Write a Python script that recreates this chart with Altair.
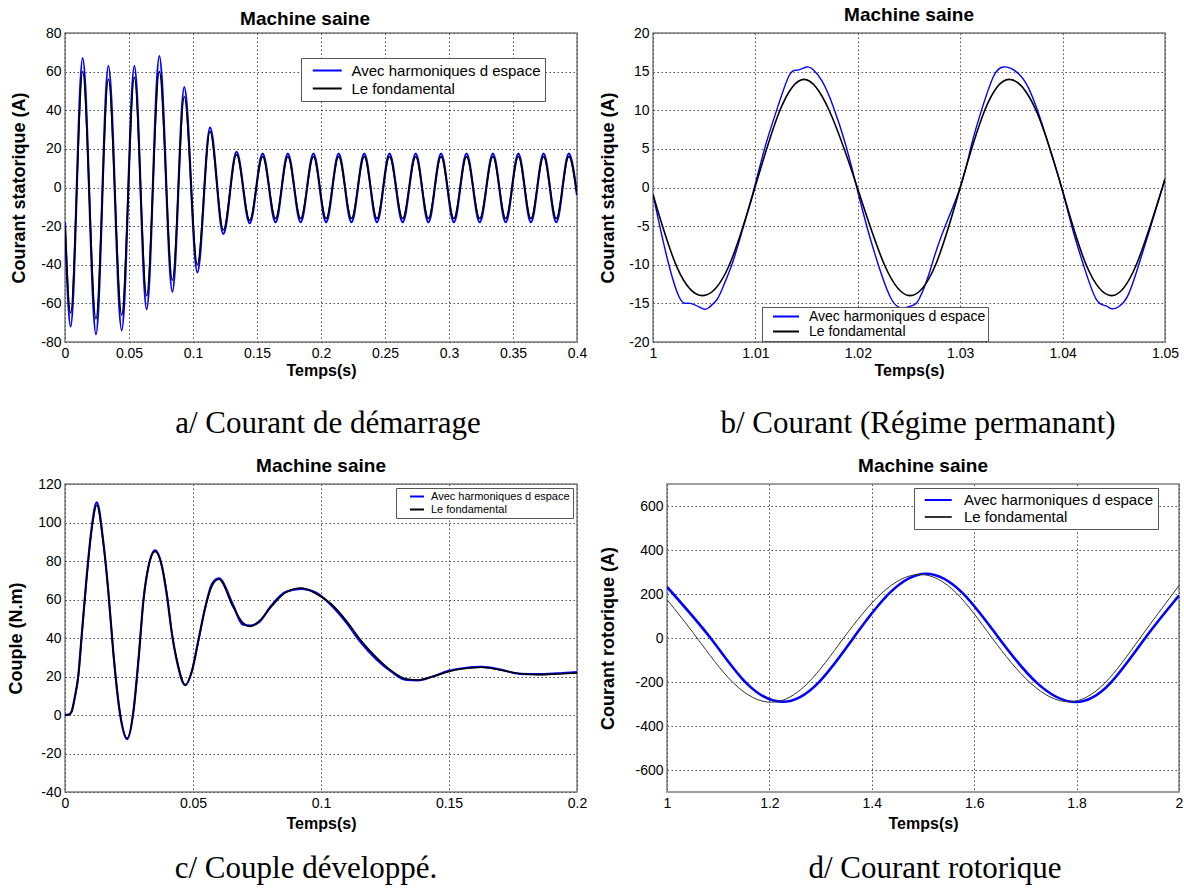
import altair as alt
import pandas as pd

LBL_H = "Avec harmoniques d espace"
LBL_F = "Le fondamental"
TITLE = "Machine saine"
XTITLE = "Temps(s)"
CAPTIONS = ["a/ Courant de démarrage", "b/ Courant (Régime permanant)",
            "c/ Couple développé.", "d/ Courant rotorique"]
YTITLES = ["Courant statorique (A)", "Courant statorique (A)", "Couple (N.m)", "Courant rotorique (A)"]

# ---------------- a/ starting current ----------------
a_t = [0.0, 0.0044, 0.0138, 0.0242, 0.0339, 0.0443, 0.0542, 0.0638, 0.0737, 0.0839,
       0.0932, 0.1034, 0.1133, 0.1237, 0.1340, 0.1443, 0.1544, 0.1645, 0.1741, 0.1841,
       0.1941, 0.2040, 0.2138, 0.2238, 0.2338, 0.2437, 0.2535, 0.2638, 0.2740, 0.2839,
       0.2938, 0.3038, 0.3137, 0.3240, 0.3343, 0.3443, 0.3542, 0.3640, 0.3739, 0.3838,
       0.3936, 0.4000]
a_fund = [-20, -65, 60, -68, 56, -66, 57, -56, 60, -48,
          47, -40, 29, -22, 17, -17, 16, -16, 16, -16,
          16, -16, 16, -16, 16, -16, 16, -16, 16, -16,
          16, -16, 16, -16, 16, -16, 16, -16, 16, -16,
          16, -3]
a_harm = [-18, -72, 67, -76, 63, -74, 63, -63, 68, -54,
          52, -44, 31, -24, 18.5, -18.5, 17.5, -18, 17.5, -18,
          17.5, -18, 17.5, -18, 17.5, -18, 17.5, -18, 17.5, -18,
          17.5, -18, 17.5, -18, 17.5, -18, 17.5, -18, 17.5, -18,
          17.5, -4]

# ---------------- b/ steady-state current ----------------
b_tf = [1.0, 1.0024, 1.00488, 1.0074, 1.00996, 1.0124, 1.01475, 1.0172, 1.01995, 1.0226,
        1.0251, 1.0276, 1.0300, 1.0324, 1.03477, 1.0374, 1.0399, 1.0423, 1.04476, 1.0472, 1.05]
b_vf = [-0.9, -10.5, -14, -10.2, 0, 10, 14, 10, 0, -10,
        -14, -10, 0, 10, 14, 10, 0, -10, -14, -10, 1.1]
b_th = [1.0000, 1.0013, 1.0026, 1.0036, 1.0049, 1.0055, 1.0062, 1.0068, 1.0078, 1.0088,
        1.0099, 1.0110, 1.0122, 1.0133, 1.0141, 1.0150, 1.0156, 1.0165, 1.0176, 1.0188,
        1.0199, 1.0210, 1.0222, 1.0233, 1.0243, 1.0253, 1.0260, 1.0270, 1.0281, 1.0300,
        1.0311, 1.0322, 1.0333, 1.0342, 1.0350, 1.0358, 1.0367, 1.0378, 1.0388, 1.0399,
        1.0410, 1.0422, 1.0433, 1.0442, 1.0448, 1.0455, 1.0463, 1.0472, 1.0485, 1.0500]
b_vh = [-0.9, -8.7, -14.3, -15.0, -15.7, -15.5, -14.6, -13.0, -9.6, -5.2,
        0.0, 5.5, 10.5, 14.5, 15.2, 15.6, 15.3, 13.8, 10.5, 5.6,
        0.0, -5.6, -10.8, -14.5, -15.6, -15.3, -14.4, -11.0, -6.5, 0.0,
        5.5, 10.5, 14.5, 15.6, 15.4, 14.6, 12.8, 9.0, 4.8, 0.0,
        -5.5, -10.7, -14.5, -15.3, -15.7, -15.4, -14.2, -11.0, -5.5, 1.1]

# ---------------- c/ torque ----------------
c_t = [0.0, 0.0015, 0.0025, 0.0039, 0.0052, 0.0065, 0.0085, 0.0104, 0.0124, 0.0150,
       0.0170, 0.0189, 0.0215, 0.0243, 0.0268, 0.0287, 0.0307, 0.0326, 0.0352, 0.0379,
       0.0398, 0.0418, 0.0437, 0.0470, 0.0496, 0.0522, 0.0548, 0.0574, 0.0601, 0.0657,
       0.0694, 0.0724, 0.0760, 0.0804, 0.0863, 0.0922, 0.0981, 0.1040, 0.1099, 0.1157,
       0.1216, 0.1275, 0.1334, 0.1378, 0.1437, 0.1496, 0.1554, 0.1628, 0.1701, 0.1775,
       0.1849, 0.1922, 0.2000]
c_fund = [0, 0.2, 1.5, 9.5, 20, 40.5, 71.7, 96, 109, 89,
          63, 32, 1, -12, 2.6, 28.6, 60, 77, 85, 77,
          63, 42, 28.6, 15.5, 23, 39, 56, 67, 70.5, 56,
          48, 46, 49, 56, 63.7, 66, 63, 57.7, 49, 38.6,
          30, 23, 18.7, 18.2, 20, 22.5, 24, 24.8, 23.4, 21.6,
          21, 21.3, 21.8]
c_harm = [0, 0.2, 1.5, 9.8, 20.5, 41, 72.5, 97, 110.5, 89.5,
          63, 32, 0.5, -12.5, 2.6, 28.6, 60.5, 77, 85.5, 77,
          62, 42, 28, 15.5, 23, 39.5, 56, 68, 71, 57,
          47, 46.5, 48.5, 56.5, 64, 65.5, 63.5, 57, 48, 37.5,
          29, 22.5, 18.2, 18.0, 20, 22.8, 24.3, 25, 23.6, 21.4,
          21.2, 21.6, 22.3]

# ---------------- d/ rotor current ----------------
d_tf = [1.0, 1.0587, 1.13, 1.204, 1.275, 1.345, 1.42, 1.494, 1.565, 1.635,
        1.71, 1.785, 1.855, 1.924, 2.0]
d_vf = [175, 0, -205, -292, -205, 0, 205, 289, 205, 0,
        -205, -290, -205, 0, 238]
d_th = [1.0, 1.085, 1.155, 1.226, 1.295, 1.364, 1.435, 1.506, 1.577, 1.648,
        1.723, 1.798, 1.866, 1.934, 2.0]
d_vh = [232, 0, -205, -290, -205, 0, 205, 292, 205, 0,
        -205, -291, -205, 0, 193]

FONT = "Liberation Sans"
LINE_SYMBOL = "M-2,0H2"
NBSP = "\u00a0"


def legend_params(box_x, box_y, pad, line_start, line_len, label_start, font_size,
                  row_pad, tail):
    """Legend position (relative to plot) and symbol geometry."""
    half = line_len / 2.0
    sym_off = line_start - pad + line_len / 4.0
    return dict(
        legendX=box_x, legendY=box_y, padding=pad, rowPadding=row_pad,
        labelFontSize=font_size, symbolSize=half * half,
        symbolOffset=sym_off,
        labelOffset=label_start - pad - half - sym_off,
        labelExpr="datum.label + '" + NBSP * tail + "'",
    )


def panel(th, vh, tf, vf, xdom, xticks, ydom, yticks, ytitle, caption, cap_x, cap_y,
          width, height, interp, blue_w, black_w, black_col, ytp, xlp, xtp,
          title_off, title_dx, leg):
    dh = pd.DataFrame({"t": th, "v": vh, "serie": LBL_H})
    dfu = pd.DataFrame({"t": tf, "v": vf, "serie": LBL_F})
    x = alt.X("t:Q", scale=alt.Scale(domain=xdom, nice=False, zero=False),
              axis=alt.Axis(values=xticks, title=XTITLE, labelExpr="'' + datum.value",
                            labelPadding=xlp, titlePadding=xtp))
    y = alt.Y("v:Q", scale=alt.Scale(domain=ydom, nice=False, zero=False),
              axis=alt.Axis(values=yticks, title=ytitle, labelExpr="'' + datum.value",
                            labelPadding=4, titlePadding=ytp))
    color = alt.Color("serie:N",
                      scale=alt.Scale(domain=[LBL_H, LBL_F], range=["#0000ff", black_col]),
                      legend=alt.Legend(title=None, orient="none",
                                        direction="vertical", fillColor="white",
                                        strokeColor="#555555",
                                        labelFont=FONT, labelColor="black",
                                        symbolType=LINE_SYMBOL,
                                        symbolStrokeWidth=2, labelLimit=500, **leg))
    lh = alt.Chart(dh).mark_line(strokeWidth=blue_w, interpolate=interp, clip=True).encode(
        x=x, y=y, color=color)
    lf = alt.Chart(dfu).mark_line(strokeWidth=black_w, interpolate=interp, clip=True).encode(
        x=x, y=y, color=color)
    cap = alt.Chart(pd.DataFrame({"c": [caption]})).mark_text(
        font="Liberation Serif", fontSize=31, align="center", baseline="alphabetic",
        color="black").encode(x=alt.value(cap_x), y=alt.value(cap_y), text="c:N")
    return alt.layer(lh, lf, cap).properties(
        width=width, height=height,
        title=alt.TitleParams(TITLE, fontSize=19, font=FONT, fontWeight="bold",
                              offset=title_off, dx=title_dx, color="black"))


pa = panel(a_t, a_harm, a_t, a_fund, [0, 0.4],
           [0, 0.05, 0.1, 0.15, 0.2, 0.25, 0.3, 0.35, 0.4],
           [-80, 80], [-80, -60, -40, -20, 0, 20, 40, 60, 80], YTITLES[0],
           CAPTIONS[0], 263, 400, 512, 309, "monotone", 2.2, 1.6, "#000000",
           12, 4, 2, -3, -16,
           legend_params(236, 25, 4, 10.5, 29, 48, 15, 1, 2))
pb = panel(b_th, b_vh, b_tf, b_vf, [1.0, 1.05],
           [1, 1.01, 1.02, 1.03, 1.04, 1.05],
           [-20, 20], [-20, -15, -10, -5, 0, 5, 10, 15, 20], YTITLES[1],
           CAPTIONS[1], 265, 400, 512, 309, "natural", 1.4, 1.6, "#000000",
           11, 4, 2, 1, 0,
           legend_params(109, 274, 2, 10, 26, 45, 14, 0, 5))
pc = panel(c_t, c_harm, c_t, c_fund, [0, 0.2],
           [0, 0.05, 0.1, 0.15, 0.2],
           [-40, 120], [-40, -20, 0, 20, 40, 60, 80, 100, 120], YTITLES[2],
           CAPTIONS[2], 241, 394, 512, 308, "monotone", 2.2, 1.6, "#000000",
           12, 4, 5, 1, 0,
           legend_params(331, 4, 3, 12, 14, 31, 11, 1, 1))
pd_ = panel(d_th, d_vh, d_tf, d_vf, [1, 2],
            [1, 1.2, 1.4, 1.6, 1.8, 2],
            [-700, 700], [-600, -400, -200, 0, 200, 400, 600], YTITLES[3],
            CAPTIONS[3], 268, 394, 512, 308, "natural", 2.6, 1.0, "#333333",
            17, 4, 5, 8, 0,
            legend_params(247, 4, 4, 9.5, 27, 47.5, 15, 1, 2))

row1 = alt.hconcat(pa, pb, spacing=76, bounds="flush").resolve_scale(color="independent")
row2 = alt.hconcat(pc, pd_, spacing=90, bounds="flush").resolve_scale(color="independent")

chart = alt.vconcat(row1, row2, spacing=451, bounds="flush").resolve_scale(
    color="independent"
).properties(
    autosize=alt.AutoSizeParams(type="none"),
    padding={"left": 65, "top": 33, "right": 1119, "bottom": 855},
).configure(background="white").configure_view(
    stroke="#7f7f7f", strokeWidth=1.5
).configure_axis(
    labelFont=FONT, titleFont=FONT, labelFontSize=14, titleFontSize=16,
    titleFontWeight="bold", labelColor="black", titleColor="black",
    grid=True, gridColor="#4d4d4d", gridDash=[1.5, 2.5], gridWidth=1, gridOpacity=1,
    ticks=False, tickSize=0, domain=False, labelFlush=False, labelOverlap=False
).configure_axisY(titleFontSize=18)

chart.save("out.html", embed_options={"renderer": "svg", "actions": False})
